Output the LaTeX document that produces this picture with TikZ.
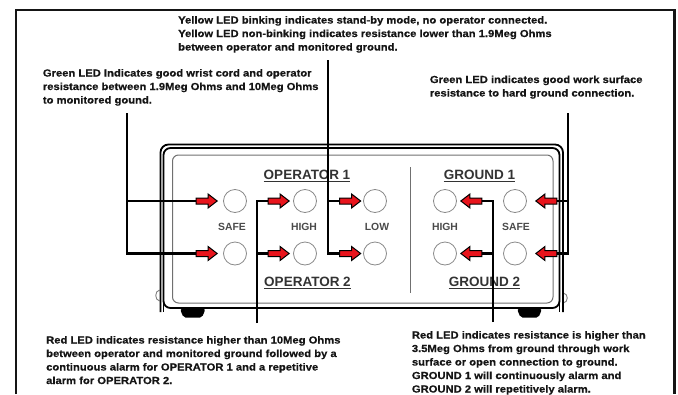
\documentclass[tikz,border=0pt]{standalone}
\usepackage{fontspec}
\newfontfamily\descfont{Liberation Sans}[FakeStretch=1.1, BoldFeatures={FakeBold=0.6}]
\newfontfamily\labfont{Liberation Sans}
\usetikzlibrary{shapes.arrows}
\definecolor{ledred}{HTML}{E8141C}
\definecolor{txt}{HTML}{151515}
\definecolor{lab}{HTML}{333333}
\definecolor{sublab}{HTML}{4A4A4A}
\definecolor{ledline}{HTML}{8A8A8A}
\definecolor{panelline}{HTML}{707070}
\begin{document}
\begin{tikzpicture}[x=1pt,y=-1pt,
  desc/.style={font={\descfont\bfseries\fontsize{10.2}{13.5}\selectfont}, text=txt, align=left, inner sep=0pt, anchor=base west},
  grouplab/.style={font={\labfont\bfseries\fontsize{13.5}{15}\selectfont}, text=lab, inner sep=0pt, anchor=base},
  ledlab/.style={font={\labfont\bfseries\fontsize{10.4}{12}\selectfont}, text=sublab, inner sep=0pt, anchor=base},
  ul/.style={line width=1.5pt, lab},
  led/.style={circle, draw=ledline, fill=white, line width=0.8pt, minimum size=23pt, inner sep=0pt},
  arr/.style={single arrow, draw=black, fill=ledred, line width=1pt, inner sep=0pt,
    text height=2.5pt, text depth=2.5pt, text width=0pt, single arrow head extend=4pt,
    single arrow tip angle=75, single arrow head indent=0pt, minimum height=21pt, anchor=tip},
  larr/.style={arr, shape border rotate=180},
  wire/.style={line width=2.4pt, black, line join=miter},
  case/.style={line width=1.8pt, black},
  panel/.style={line width=1pt, panelline},
  frame/.style={line width=2.5pt, txt}]
\useasboundingbox (0,0) rectangle (678,394);
% page frame
\draw[frame] (16,394) -- (16,10) -- (674.5,10) -- (674.5,394);
% device
\fill[rounded corners=2pt] (180,309) -- (205.5,309) -- (202,317.5) -- (183.5,317.5) -- cycle;
\fill[rounded corners=2pt] (517,309) -- (542,309) -- (538.5,317.5) -- (520.5,317.5) -- cycle;
\draw[line width=0.9pt, gray] (159.5,290) .. controls (154.5,291) and (154.5,300) .. (159.5,301);
\draw[line width=0.9pt, gray] (563.5,293) .. controls (568.5,294) and (568.5,302) .. (563.5,303);
\draw[case, rounded corners=8pt] (160.5,312) -- (160.5,144.5) -- (563,144.5) -- (563,312);
\draw[case, rounded corners=7pt] (163.5,148) rectangle (559.5,308);
\draw[case] (163.5,300) -- (163.5,312);
\draw[case] (559.5,300) -- (559.5,312);
\draw[panel, rounded corners=6pt] (172.5,155) rectangle (553,303);
\draw[panel] (410,167) -- (410,293);
% group labels
\node[grouplab] (op1) at (307,179) {OPERATOR 1};
\node[grouplab] (op2) at (307.5,286) {OPERATOR 2};
\node[grouplab] (gr1) at (479.5,179) {GROUND 1};
\node[grouplab] (gr2) at (484.5,286) {GROUND 2};
\foreach \n in {op1,op2,gr1,gr2}
  \draw[ul] ([yshift=-2.5pt]\n.base west) -- ([yshift=-2.5pt]\n.base east);
% LED labels
\node[ledlab] (lsafe) at (232,230) {SAFE};
\node[ledlab] (lhigh) at (304,230) {HIGH};
\node[ledlab] (llow) at (377,230) {LOW};
\node[ledlab] (ghigh) at (445,230) {HIGH};
\node[ledlab] (gsafe) at (516,230) {SAFE};
% LEDs
\node[led] (os1) at (235,201) {};
\node[led] (os2) at (235,253.5) {};
\node[led] (oh1) at (305,201) {};
\node[led] (oh2) at (305,253.5) {};
\node[led] (ol1) at (375,201) {};
\node[led] (ol2) at (375,253.5) {};
\node[led] (gh1) at (445,201) {};
\node[led] (gh2) at (445,253.5) {};
\node[led] (gs1) at (515,201) {};
\node[led] (gs2) at (515,253.5) {};
% arrows
\node[arr] (aos1) at (218,201) {};
\node[arr] (aos2) at (218,253.5) {};
\node[arr] (aoh1) at (290,201) {};
\node[arr] (aoh2) at (290,253.5) {};
\node[arr] (aol1) at (361.5,201) {};
\node[arr] (aol2) at (361.5,253.5) {};
\node[larr] (agh1) at (460,201) {};
\node[larr] (agh2) at (460,253.5) {};
\node[larr] (ags1) at (535,201) {};
\node[larr] (ags2) at (535,253.5) {};
% description texts (base = baseline of last line)
\node[desc] (ttop) at (178,50.5) {Yellow LED binking indicates stand-by mode, no operator connected.\\Yellow LED non-binking indicates resistance lower than 1.9Meg Ohms\\between operator and monitored ground.};
\node[desc] (tleft) at (42.7,103.5) {Green LED Indicates good wrist cord and operator\\resistance between 1.9Meg Ohms and 10Meg Ohms\\to monitored gound.};
\node[desc] (tright) at (429.7,96.5) {Green LED indicates good work surface\\resistance to hard ground connection.};
\node[desc] (tbl) at (46,384) {Red LED indicates resistance higher than 10Meg Ohms\\between operator and monitored ground followed by a\\continuous alarm for OPERATOR 1 and a repetitive\\alarm for OPERATOR 2.};
\node[desc] (tbr) at (411.7,392.5) {Red LED indicates resistance is higher than\\3.5Meg Ohms from ground through work\\surface or open connection to ground.\\GROUND 1 will continuously alarm and\\GROUND 2 will repetitively alarm.};
% connector end points
\coordinate (cA) at (127,113);
\coordinate (cB) at (257,323);
\coordinate (cC) at (328,60);
\coordinate (cD) at (493,322);
\coordinate (cE) at (568,113);
% connectors
\draw[wire] (cA) |- (aos2.tail);
\draw[wire] (aos1.tail) -- (aos1.tail -| cA);
\draw[wire] (cB) |- (aoh1.tail);
\draw[wire] (aoh2.tail) -- (aoh2.tail -| cB);
\draw[wire] (cC) |- (aol2.tail);
\draw[wire] (aol1.tail) -- (aol1.tail -| cC);
\draw[wire] (cD) |- (agh1.tail);
\draw[wire] (agh2.tail) -- (agh2.tail -| cD);
\draw[wire] (cE) |- (ags2.tail);
\draw[wire] (ags1.tail) -- (ags1.tail -| cE);
\end{tikzpicture}
\end{document}
